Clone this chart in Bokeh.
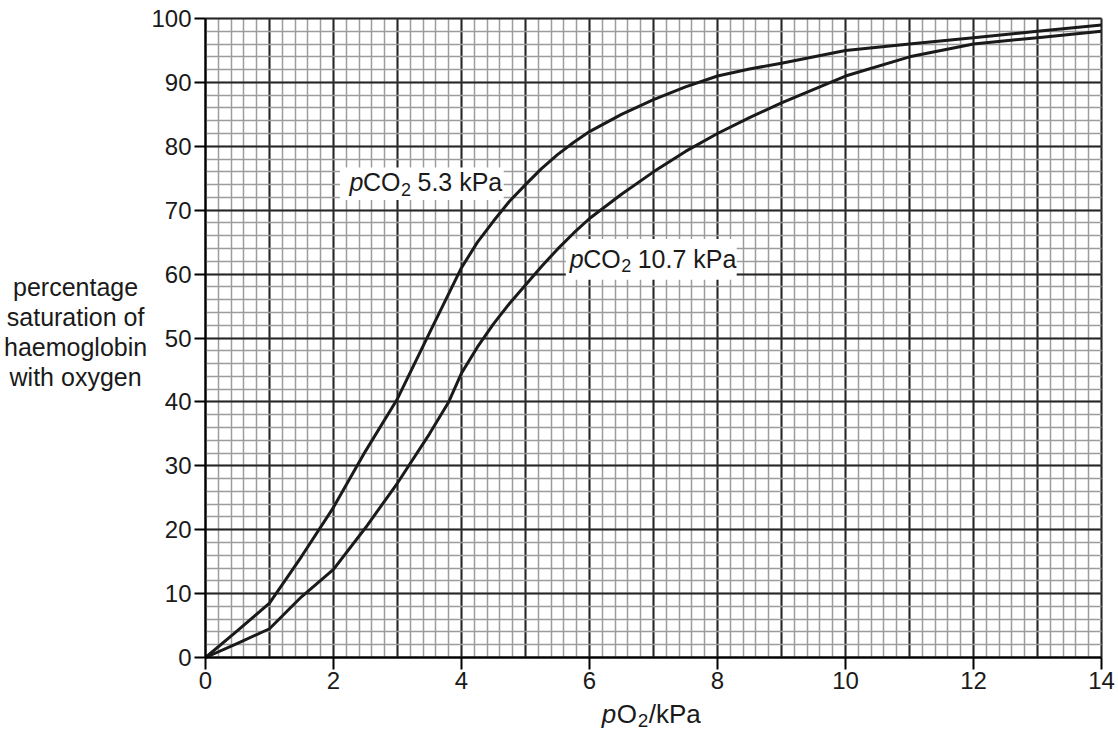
import numpy as np
from bokeh.plotting import figure
from bokeh.models import Range1d, FixedTicker, Grid, Label, BoxAnnotation, LinearAxis
from bokeh.embed import file_html
from bokeh.resources import INLINE

# ---- data ----
po2_53 = [0, 0.5, 1, 1.5, 2, 2.5, 3, 3.5, 4, 4.25, 4.5, 4.75, 5, 5.25, 5.5, 5.75, 6, 6.5, 7, 7.5, 8, 8.5, 9, 10, 11, 12, 13, 14]
sat_53 = [0, 4.2, 8.5, 15.8, 23.5, 32.3, 40.5, 50.8, 61, 65, 68.3, 71.4, 74, 76.5, 78.7, 80.6, 82.3, 85, 87.3, 89.3, 91, 92.1, 93, 95, 96, 97, 98, 99]

po2_107 = [0, 0.5, 1, 1.5, 2, 2.5, 3, 3.5, 3.8, 4, 4.25, 4.5, 4.75, 5, 5.25, 5.5, 5.75, 6, 6.5, 7, 7.5, 8, 8.5, 9, 10, 11, 12, 13, 14]
sat_107 = [0, 2.2, 4.5, 9.5, 13.8, 20.3, 27.3, 35, 40, 44.5, 48.6, 52.2, 55.4, 58.3, 61.2, 63.9, 66.4, 68.7, 72.5, 76, 79.2, 82, 84.5, 86.8, 91, 94, 96, 97, 98]

x_ticks = [0, 2, 4, 6, 8, 10, 12, 14]
y_ticks = [0, 10, 20, 30, 40, 50, 60, 70, 80, 90, 100]
y_title_lines = ["percentage", "saturation of", "haemoglobin", "with oxygen"]

FONT = "Liberation Sans"
INK = "#1a1a1a"

W, H = 1118, 736
# plot area in pixels: x 0..14 -> 205..1101, y 0..100 -> 657..18
X0, XS = 205, 64.0
Y0, YS = 657, 6.39
LIFT = 10  # screen-pixel correction for text baseline

p = figure(width=W, height=H, title=None,
           x_range=Range1d(-X0 / XS, (W - X0) / XS),
           y_range=Range1d(-(H - Y0) / YS, Y0 / YS),
           output_backend="svg", toolbar_location=None,
           x_axis_type=None, y_axis_type=None, min_border=0)
p.outline_line_color = None
p.background_fill_color = "white"
p.border_fill_color = "white"

# ---- graph-paper grid ----
xg = Grid(dimension=0, level="image", bounds=(0, 14), cross_bounds=(0, 100),
          ticker=FixedTicker(ticks=list(np.arange(0, 14.001, 1.0)),
                             minor_ticks=list(np.round(np.arange(0, 14.001, 0.2), 3))),
          grid_line_color="#262626", grid_line_width=2,
          minor_grid_line_color="#9c9c9c", minor_grid_line_width=1.5)
yg = Grid(dimension=1, level="image", bounds=(0, 100), cross_bounds=(0, 14),
          ticker=FixedTicker(ticks=list(np.arange(0, 100.001, 10.0)),
                             minor_ticks=list(np.arange(0, 100.001, 2.0))),
          grid_line_color="#262626", grid_line_width=2,
          minor_grid_line_color="#9c9c9c", minor_grid_line_width=1.5)
p.add_layout(xg)
p.add_layout(yg)

# ---- axes ----
common = dict(axis_line_color="black", axis_line_width=2,
              major_tick_line_color="black", major_tick_line_width=2,
              major_tick_in=0, minor_tick_out=0, minor_tick_in=0,
              major_label_text_font=FONT, major_label_text_font_size="24px",
              major_label_text_color=INK)
xa = LinearAxis(ticker=FixedTicker(ticks=x_ticks), fixed_location=0, bounds=(0, 14),
                major_tick_out=12, major_label_standoff=2, **common)
ya = LinearAxis(ticker=FixedTicker(ticks=y_ticks), fixed_location=0, bounds=(0, 100),
                major_tick_out=11, major_label_standoff=3, **common)
p.add_layout(xa, "below")
p.add_layout(ya, "left")

# ---- white boxes behind the curve labels ----
p.add_layout(BoxAnnotation(left=2.1, right=4.66, top=76.7, bottom=71.6, level="underlay",
                           fill_color="white", fill_alpha=1, line_color=None))
p.add_layout(BoxAnnotation(left=5.63, right=8.3, top=65.5, bottom=59.1, level="underlay",
                           fill_color="white", fill_alpha=1, line_color=None))

# ---- curves ----
p.line(po2_53, sat_53, line_color=INK, line_width=3, line_join="round")
p.line(po2_107, sat_107, line_color=INK, line_width=3, line_join="round")


def rich(x, y, parts):
    for text, dx, dy, fs, style in parts:
        p.add_layout(Label(x=x, y=y, x_offset=dx, y_offset=dy + LIFT, text=text,
                           text_font=FONT, text_font_size=f"{fs}px", text_font_style=style,
                           text_color=INK, text_align="left", text_baseline="alphabetic"))


rich(2.25, 72.8, [("p", 0, 0, 25, "italic"), ("CO", 13.5, 0, 25, "normal"),
                  ("2", 51.5, -7, 18, "normal"), ("5.3 kPa", 68, 0, 25, "normal")])
rich(5.69, 60.8, [("p", 0, 0, 25, "italic"), ("CO", 13.5, 0, 25, "normal"),
                  ("2", 51.5, -7, 18, "normal"), ("10.7 kPa", 68, 0, 25, "normal")])

# x-axis title  pO2/kPa
rich(6.19, -10.4, [("p", 0, 0, 26, "italic"), ("O", 15, 0, 26, "normal"),
                   ("2", 36, -7, 19, "normal"), ("/kPa", 47, 0, 26, "normal")])

# y-axis title (horizontal, four centred lines)
for i, line in enumerate(y_title_lines):
    p.add_layout(Label(x=-2.03, y=56.65 - i * 4.7, y_offset=LIFT - 1, text=line, text_font=FONT,
                       text_font_size="25px", text_color=INK,
                       text_align="center", text_baseline="alphabetic"))

open("out.html", "w").write(file_html(p, INLINE))
